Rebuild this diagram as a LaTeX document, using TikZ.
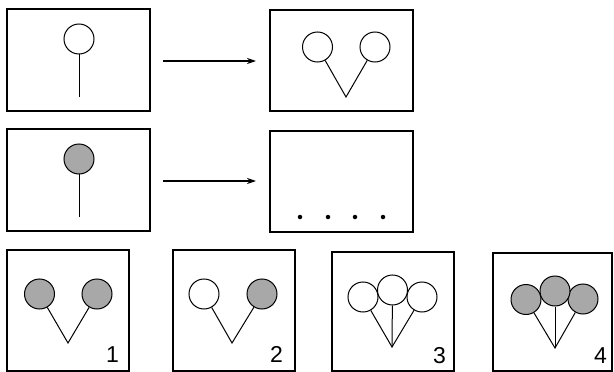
\documentclass[tikz,border=0pt]{standalone}
\usepackage{fontspec}
\setmainfont{Liberation Sans}
\usetikzlibrary{arrows.meta}
\definecolor{ballgray}{RGB}{168,168,168}
\begin{document}
\begin{tikzpicture}[x=1pt,y=-1pt,
  frame/.style={draw,line width=1.1pt,inner sep=0,outer sep=0},
  ball/.style={circle,draw,line width=1pt,minimum size=30pt,inner sep=0,fill=white},
  gball/.style={ball,fill=ballgray},
  stick/.style={line width=1pt},
  dotmark/.style={circle,fill=black,minimum size=4.5pt,inner sep=0},
  num/.style={font=\fontsize{23}{23}\selectfont,anchor=base east,inner sep=0},
  arr/.style={line width=1.1pt,-{Stealth[length=9pt,width=6pt]}}]
\useasboundingbox (0,0) rectangle (614,372);
% top row
\node[frame,minimum width=143pt,minimum height=102pt] (b1) at (78.5,60) {};
\node[frame,minimum width=143pt,minimum height=101pt] (b2) at (341.5,60.5) {};
\coordinate (s1) at (79,97);
\draw[stick] (s1) -- (79,53);
\node[ball] (c1) at (79,39) {};
\coordinate (v2) at (346,97);
\node[ball] (c2a) at (317.5,47) {};
\node[ball] (c2b) at (375,47) {};
\draw[stick] (c2a) -- (v2) -- (c2b);
\draw[arr] ([xshift=13pt,yshift=-1pt]b1.east) -- ([xshift=-14pt]b2.west |- 0,61);
% second row
\node[frame,minimum width=143pt,minimum height=102pt] (b3) at (78.5,180) {};
\node[frame,minimum width=143pt,minimum height=101pt] (b4) at (341.5,181.5) {};
\coordinate (s3) at (79,217);
\draw[stick] (s3) -- (79,173);
\node[gball] (c3) at (79,159) {};
\node[dotmark] (d1) at (300,217) {};
\node[dotmark] (d2) at (328,217) {};
\node[dotmark] (d3) at (355,217) {};
\node[dotmark] (d4) at (383,217) {};
\coordinate (a2s) at (163,181);
\coordinate (a2e) at (256,181);
\draw[arr] (a2s) -- (a2e);
% bottom row
\node[frame,minimum width=122pt,minimum height=121pt] (o1) at (68,310.5) {};
\node[frame,minimum width=122pt,minimum height=121pt] (o2) at (234,310.5) {};
\node[frame,minimum width=122pt,minimum height=119pt] (o3) at (393,311.5) {};
\node[frame,minimum width=119pt,minimum height=118pt] (o4) at (552.5,312) {};
% option 1
\coordinate (v1) at (68,343);
\node[gball] (p1a) at (39.5,294) {};
\node[gball] (p1b) at (97,294) {};
\draw[stick] (p1a) -- (v1) -- (p1b);
\node[num] (n1) at (119,362) {1};
% option 2
\coordinate (vv2) at (232,343);
\node[ball] (p2a) at (204,294) {};
\node[gball] (p2b) at (262,294) {};
\draw[stick] (p2a) -- (vv2) -- (p2b);
\node[num] (n2) at (283,362) {2};
% option 3
\coordinate (v3) at (392,347);
\node[ball] (p3a) at (363,297) {};
\node[ball] (p3c) at (422,297) {};
\node[ball] (p3b) at (392.5,290) {};
\draw[stick] (p3a) -- (v3) -- (p3c);
\draw[stick] (v3) -- (p3b);
\node[num] (n3) at (446,363) {3};
% option 4
\coordinate (v4) at (555,348);
\node[gball] (p4a) at (526,299.5) {};
\node[gball] (p4c) at (583,299) {};
\node[gball] (p4b) at (555,291) {};
\draw[stick] (p4a) -- (v4) -- (p4c);
\draw[stick] (v4) -- (p4b);
\node[num] (n4) at (607,363) {4};
\end{tikzpicture}
\end{document}
